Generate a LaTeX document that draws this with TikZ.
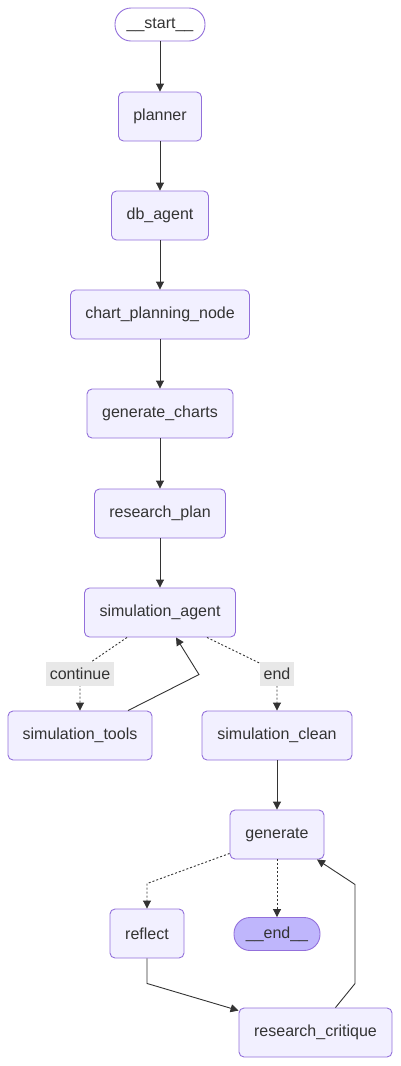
\documentclass[tikz,border=0pt]{standalone}
\usepackage{fontspec}
\setmainfont{Liberation Sans}
\usetikzlibrary{arrows.meta}
\definecolor{boxfill}{HTML}{F2F0FF}
\definecolor{boxline}{HTML}{9370DB}
\definecolor{endfill}{HTML}{BFB6FC}
\definecolor{ink}{HTML}{333333}
\definecolor{lblfill}{HTML}{E8E8E8}

\begin{document}
\begin{tikzpicture}[x=1pt, y=-1pt,
    every node/.style={font=\fontsize{16pt}{19pt}\selectfont, text=ink},
    box/.style={draw=boxline, fill=boxfill, line width=0.9pt, rounded corners=5pt, minimum height=49pt, inner sep=0pt},
    pill/.style={draw=boxline, line width=0.9pt, rounded corners=16pt, minimum height=33pt, inner sep=0pt},
    lbl/.style={fill=lblfill, inner xsep=4pt, inner ysep=2pt, minimum height=24pt},
    edge/.style={draw=ink, line width=0.9pt, -{Triangle[length=8pt,width=8pt]}},
    condedge/.style={edge, dash pattern=on 2pt off 2pt}]
        \useasboundingbox (0,0) rectangle (401,1066);

        % nodes
        \node[pill, fill=white, minimum width=90pt] (start) at (160,24.5) {\_\_start\_\_};
        \node[box, minimum width=83pt] (planner) at (160,116.5) {planner};
        \node[box, minimum width=97pt] (dbagent) at (160,215.5) {db\_agent};
        \node[box, minimum width=179pt] (chartplan) at (160,314.5) {chart\_planning\_node};
        \node[box, minimum width=146pt] (gencharts) at (160,413.5) {generate\_charts};
        \node[box, minimum width=131pt] (resplan) at (160,513.5) {research\_plan};
        \node[box, minimum width=151pt] (simagent) at (160,612.5) {simulation\_agent};
        \node[box, minimum width=144pt] (simtools) at (80,735.5) {simulation\_tools};
        \node[box, minimum width=150pt] (simclean) at (277,735.5) {simulation\_clean};
        \node[box, minimum width=94pt] (generate) at (277,834.5) {generate};
        \node[box, minimum width=74pt] (reflect) at (147,933.5) {reflect};
        \node[pill, fill=endfill, minimum width=86pt] (end) at (277,934) {\_\_end\_\_};
        \node[box, minimum width=153pt] (critique) at (315.5,1032.5) {research\_critique};

        % straight chain
        \draw[edge] (start) -- (planner);
        \draw[edge] (planner) -- (dbagent);
        \draw[edge] (dbagent) -- (chartplan);
        \draw[edge] (chartplan) -- (gencharts);
        \draw[edge] (gencharts) -- (resplan);
        \draw[edge] (resplan) -- (simagent);
        \draw[edge] (simclean) -- (generate);

        % simulation loop
        \draw[condedge] ([xshift=-33pt]simagent.south) -- ([yshift=41pt]simtools.north) -- (simtools.north);
        \draw[edge] ([xshift=48pt]simtools.north) -- ([xshift=119pt,yshift=36pt]simtools.north) -- ([xshift=16pt]simagent.south);
        \draw[condedge] ([xshift=47pt]simagent.south) -- ([yshift=39pt]simclean.north) -- (simclean.north);
        \node[lbl] (lcont) at (80,674) {continue};
        \node[lbl] (lend) at (277,674) {end};

        % reflection loop
        \draw[condedge] ([yshift=6pt]generate.south west) -- ([yshift=25pt]reflect.north) -- (reflect.north);
        \draw[condedge] (generate) -- (end);
        \draw[edge] (reflect.south) -- ([yshift=-25pt]reflect.south) -- ([yshift=-3pt]critique.north west);
        \draw[edge] ([xshift=20pt]critique.north) -- ([xshift=39.5pt,yshift=24pt]critique.north) -- ([xshift=78pt,yshift=-25pt]generate.south) -- ([xshift=40pt]generate.south);
    \end{tikzpicture}
\end{document}
